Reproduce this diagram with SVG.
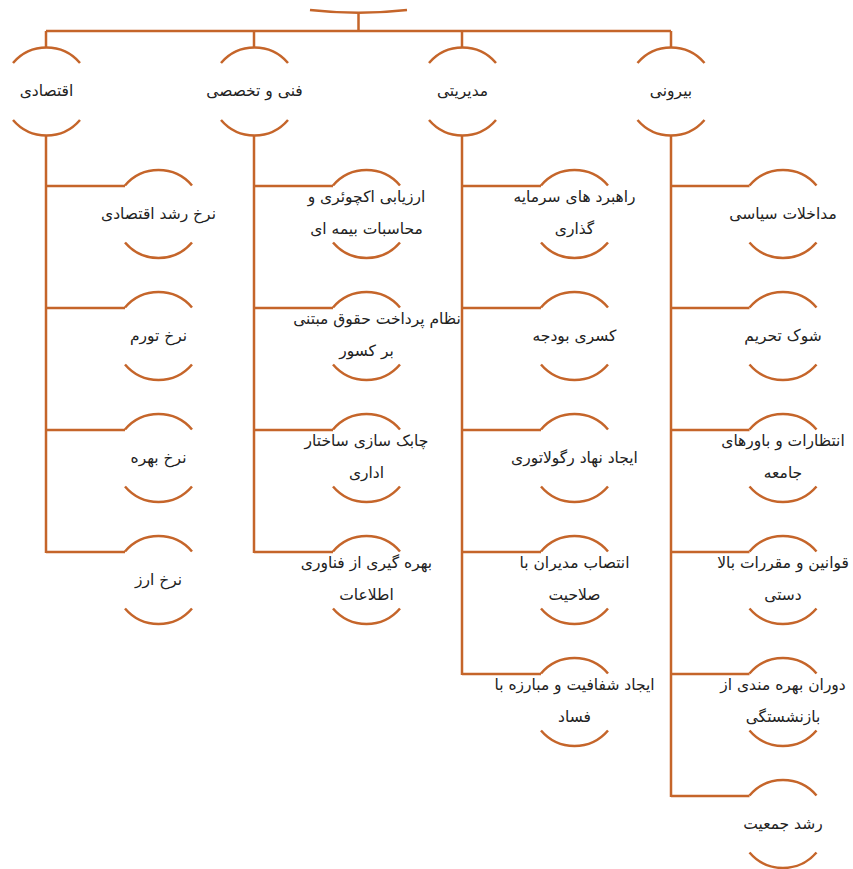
<svg xmlns="http://www.w3.org/2000/svg" xmlns:xlink="http://www.w3.org/1999/xlink" width="853" height="869" viewBox="0 0 853 869">
<style>
.ln{stroke:#C5652A;stroke-width:2.5;fill:none}
.arc{stroke:#C5652A;stroke-width:2.5;fill:none}
text{font-family:"DejaVu Sans",sans-serif;font-size:15.5px;fill:#222;text-anchor:middle;direction:rtl}
</style>
<defs>
<path id="arcs" class="arc" d="M-33.5,-28.5 A44,44 0 0 1 33.5,-28.5 M-33.5,28.5 A44,44 0 0 0 33.5,28.5"/>
</defs>
<rect width="853" height="869" fill="#fff"/>
<g id="connectors">
<path class="ln" d="M310,10 Q358.5,15.5 407,10"/>
<path class="ln" d="M358.5,12.5 V31 M46,31 H671 M46,31 V48 M254,31 V48 M462,31 V48 M671,31 V48"/>
<path class="ln" d="M46,135 V553 M46,186 H125 M46,308 H125 M46,430 H125 M46,552 H125"/>
<path class="ln" d="M254,135 V553 M254,186 H333 M254,308 H333 M254,430 H333 M254,552 H333"/>
<path class="ln" d="M462,135 V675 M462,186 H541 M462,308 H541 M462,430 H541 M462,552 H541 M462,674 H541"/>
<path class="ln" d="M671,135 V797 M671,186 H749.5 M671,308 H749.5 M671,430 H749.5 M671,552 H749.5 M671,674 H749.5 M671,796 H749.5"/>
</g>
<g id="n_eq"><use xlink:href="#arcs" x="46.5" y="91.5"/><text x="46.5" y="96">اقتصادی</text></g>
<g id="n_fn"><use xlink:href="#arcs" x="254.5" y="91.5"/><text x="254.5" y="96">فنی و تخصصی</text></g>
<g id="n_md"><use xlink:href="#arcs" x="462.5" y="91.5"/><text x="462.5" y="96">مدیریتی</text></g>
<g id="n_br"><use xlink:href="#arcs" x="671" y="91.5"/><text x="671" y="96">بیرونی</text></g>

<g id="n_e1"><use xlink:href="#arcs" x="158.5" y="214"/><text x="158.5" y="219">نرخ رشد اقتصادی</text></g>
<g id="n_e2"><use xlink:href="#arcs" x="158.5" y="336"/><text x="158.5" y="341">نرخ تورم</text></g>
<g id="n_e3"><use xlink:href="#arcs" x="158.5" y="458"/><text x="158.5" y="463">نرخ بهره</text></g>
<g id="n_e4"><use xlink:href="#arcs" x="158.5" y="580"/><text x="158.5" y="585">نرخ ارز</text></g>

<g id="n_f1"><use xlink:href="#arcs" x="366.5" y="214"/><text x="366.5" y="202">ارزیابی اکچوئری و</text><text x="366.5" y="234">محاسبات بیمه ای</text></g>
<g id="n_f2"><use xlink:href="#arcs" x="366.5" y="336"/><text x="377" y="324">نظام پرداخت حقوق مبتنی</text><text x="366.5" y="356">بر کسور</text></g>
<g id="n_f3"><use xlink:href="#arcs" x="366.5" y="458"/><text x="366.5" y="446">چابک سازی ساختار</text><text x="366.5" y="478">اداری</text></g>
<g id="n_f4"><use xlink:href="#arcs" x="366.5" y="580"/><text x="366.5" y="568">بهره گیری از فناوری</text><text x="366.5" y="600">اطلاعات</text></g>

<g id="n_m1"><use xlink:href="#arcs" x="574.5" y="214"/><text x="574.5" y="202">راهبرد های سرمایه</text><text x="574.5" y="234">گذاری</text></g>
<g id="n_m2"><use xlink:href="#arcs" x="574.5" y="336"/><text x="574.5" y="341">کسری بودجه</text></g>
<g id="n_m3"><use xlink:href="#arcs" x="574.5" y="458"/><text x="574.5" y="463">ایجاد نهاد رگولاتوری</text></g>
<g id="n_m4"><use xlink:href="#arcs" x="574.5" y="580"/><text x="574.5" y="568">انتصاب مدیران با</text><text x="574.5" y="600">صلاحیت</text></g>
<g id="n_m5"><use xlink:href="#arcs" x="574.5" y="702"/><text x="574.5" y="690">ایجاد شفافیت و مبارزه با</text><text x="574.5" y="722">فساد</text></g>

<g id="n_b1"><use xlink:href="#arcs" x="783" y="214"/><text x="783" y="219">مداخلات سیاسی</text></g>
<g id="n_b2"><use xlink:href="#arcs" x="783" y="336"/><text x="783" y="341">شوک تحریم</text></g>
<g id="n_b3"><use xlink:href="#arcs" x="783" y="458"/><text x="783" y="446">انتظارات و باورهای</text><text x="783" y="478">جامعه</text></g>
<g id="n_b4"><use xlink:href="#arcs" x="783" y="580"/><text x="783" y="568">قوانین و مقررات بالا</text><text x="783" y="600">دستی</text></g>
<g id="n_b5"><use xlink:href="#arcs" x="783" y="702"/><text x="783" y="690">دوران بهره مندی از</text><text x="783" y="722">بازنشستگی</text></g>
<g id="n_b6"><use xlink:href="#arcs" x="783" y="824"/><text x="783" y="829">رشد جمعیت</text></g>
</svg>
